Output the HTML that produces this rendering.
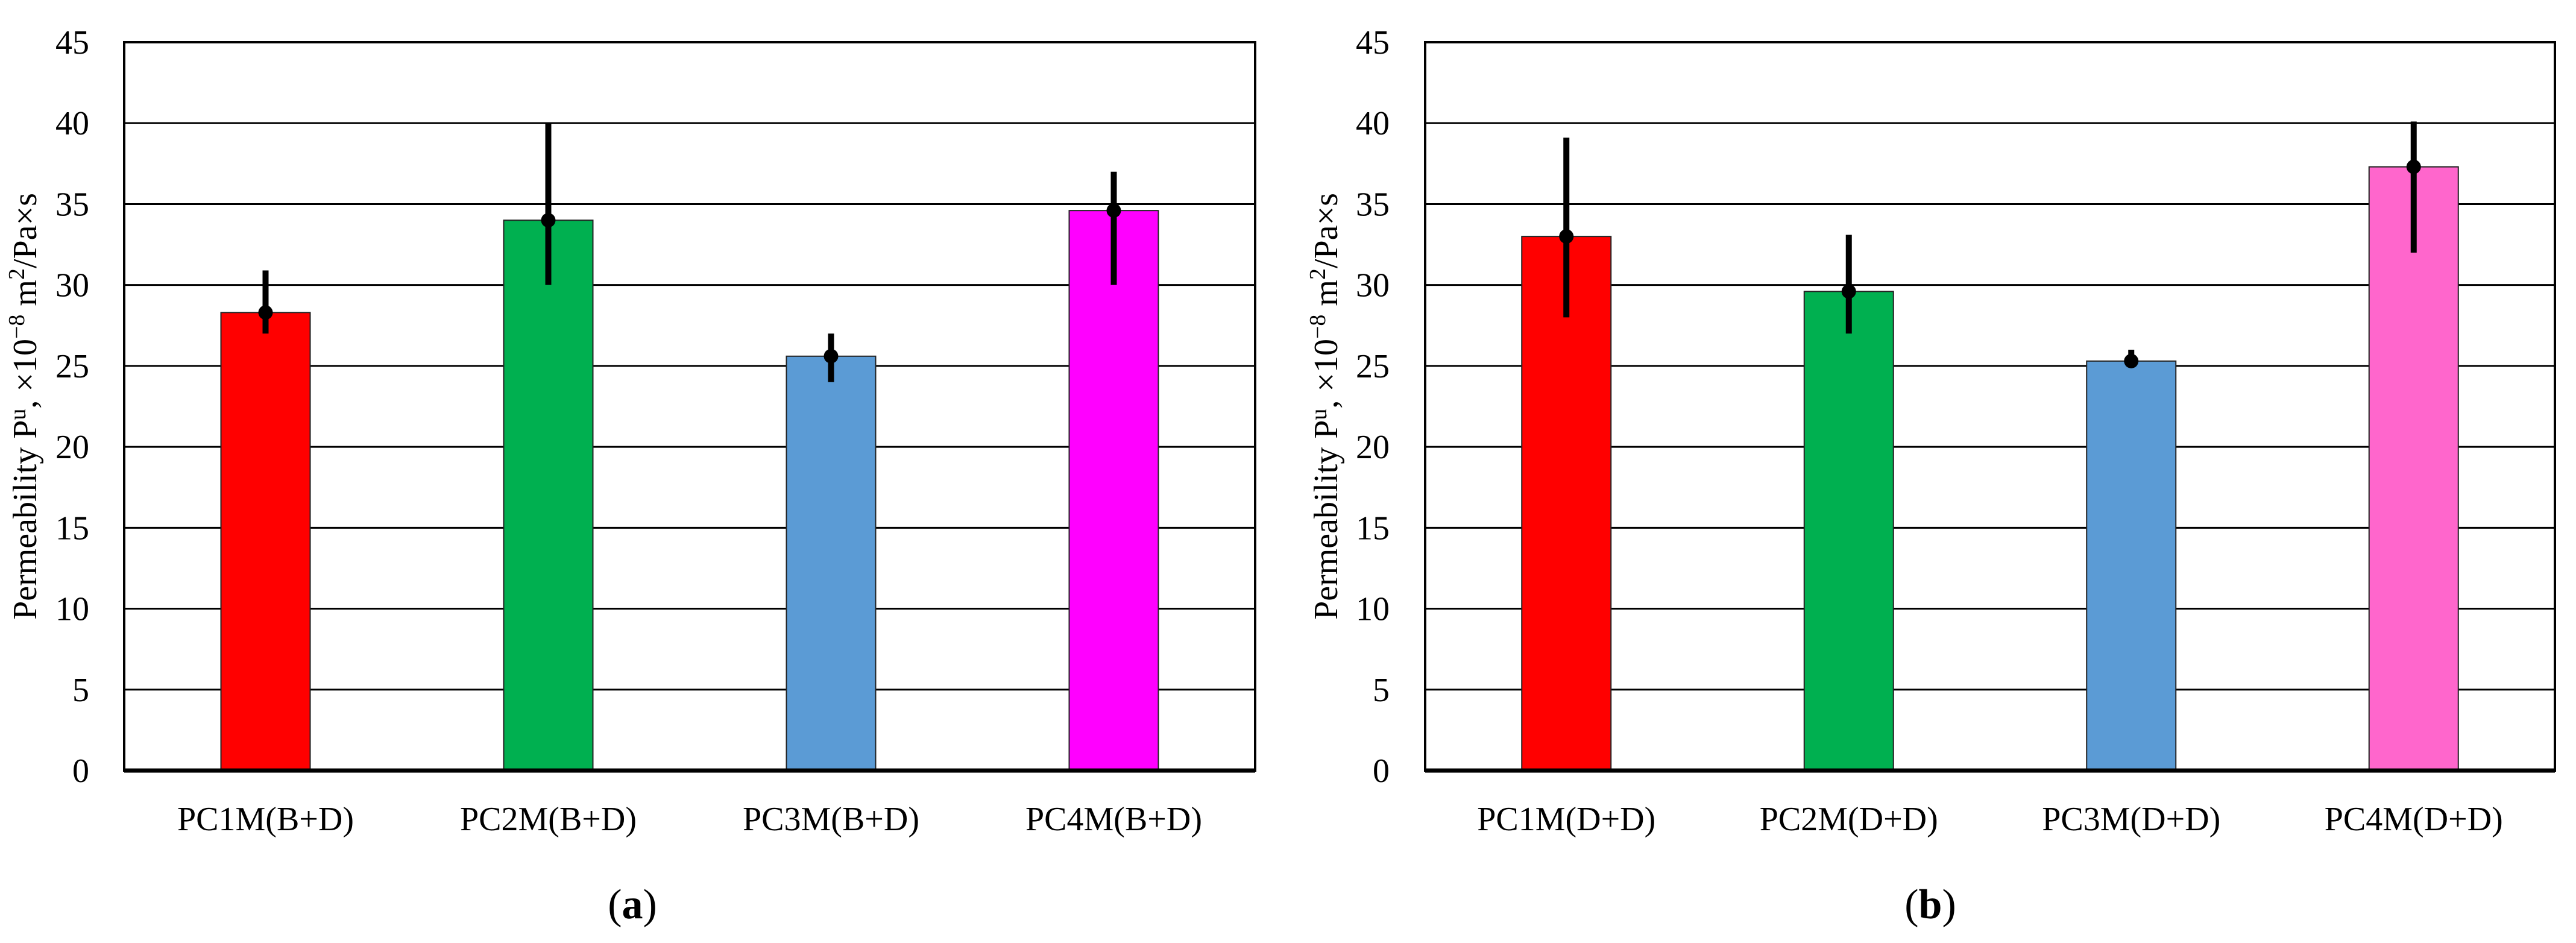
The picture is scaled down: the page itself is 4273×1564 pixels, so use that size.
<!DOCTYPE html>
<html><head><meta charset="utf-8">
<style>
html,body{margin:0;padding:0;background:#fff;}
svg{display:block;font-family:"Liberation Serif",serif;}
</style></head>
<body>
<svg id="fig" width="4273" height="1564" viewBox="0 0 4273 1564" xmlns="http://www.w3.org/2000/svg"></svg>
<script>
const yTicks = [0,5,10,15,20,25,30,35,40,45];
const catsA = ["PC1M(B+D)","PC2M(B+D)","PC3M(B+D)","PC4M(B+D)"];
const valsA = [28.3,34.0,25.6,34.6];
const lowA = [27.0,30.0,24.0,30.0];
const highA = [30.9,40.0,27.0,37.0];
const colorsA = ["#FF0000","#00B050","#5B9BD5","#FF00FF"];
const catsB = ["PC1M(D+D)","PC2M(D+D)","PC3M(D+D)","PC4M(D+D)"];
const valsB = [33.0,29.6,25.3,37.3];
const lowB = [28.0,27.0,25.0,32.0];
const highB = [39.1,33.1,26.0,40.1];
const colorsB = ["#FF0000","#00B050","#5B9BD5","#FF66CC"];

const NS="http://www.w3.org/2000/svg";
const svg=document.getElementById('fig');
function mk(tag,attrs,parent){const e=document.createElementNS(NS,tag);for(const k in attrs)e.setAttribute(k,attrs[k]);(parent||svg).appendChild(e);return e;}

function chart(id,L,R,cats,vals,lo,hi,cols,letter,titleX,tickX,letterX){
  const T=70,B=1278,ymax=45;
  const g=mk('g',{});
  
  
  const y=v=>B-(v/ymax)*(B-T);
  const bw=(R-L)/cats.length;
  const x=i=>L+bw*(i+0.5);
  yTicks.forEach(t=>{
    if(t>0&&t<45){const ln=mk('line',{x1:L,x2:R,y1:y(t),y2:y(t),stroke:'#000','stroke-width':3},g);
    
    }
    const tx=mk('text',{x:tickX,y:y(t)+19,'text-anchor':'end','font-size':56,fill:'#000'},g);
    tx.textContent=t;
    
    
  });
  cats.forEach((c,i)=>{
    const w=148;
    const r=mk('rect',{x:x(i)-w/2,y:y(vals[i]),width:w,height:B-y(vals[i]),fill:cols[i],stroke:'#222','stroke-width':2},g);
    
    
    const e=mk('line',{x1:x(i),x2:x(i),y1:y(hi[i]),y2:y(lo[i]),stroke:'#000','stroke-width':10},g);
    
    
    const d=mk('ellipse',{cx:x(i),cy:y(vals[i]),rx:12,ry:12,fill:'#000'},g);
    
    
    const tl=mk('text',{x:x(i),y:1377,'text-anchor':'middle','font-size':56,fill:'#000'},g);
    tl.textContent=c;
    
    
  });
  const fr=mk('rect',{x:L,y:T,width:R-L,height:B-T,fill:'none',stroke:'#000','stroke-width':4},g);
  
  
  const ax=mk('line',{x1:L,x2:R,y1:B,y2:B,stroke:'#000','stroke-width':7},g);
  
  
  const yt=mk('text',{x:0,y:0,'text-anchor':'middle','font-size':56,fill:'#000',transform:'translate('+titleX+',674) rotate(-90)'},g);
  yt.innerHTML='Permeability P<tspan font-size="38" dy="-18">u</tspan><tspan dy="18">, ×10</tspan><tspan font-size="38" dy="-20">−8</tspan><tspan dy="20"> m</tspan><tspan font-size="38" dy="-20">2</tspan><tspan dy="20">/Pa×s</tspan>';
  
  
  const lt=mk('text',{x:letterX,y:1523,'text-anchor':'middle','font-size':70,fill:'#000'},g);
  lt.innerHTML='(<tspan font-weight="bold">'+letter+'</tspan>)';
  
  
}
chart('a',206,2082,catsA,valsA,lowA,highA,colorsA,'a',60,148,1049);
chart('b',2364,4238,catsB,valsB,lowB,highB,colorsB,'b',2218,2305,3202);
</script>
</body></html>
